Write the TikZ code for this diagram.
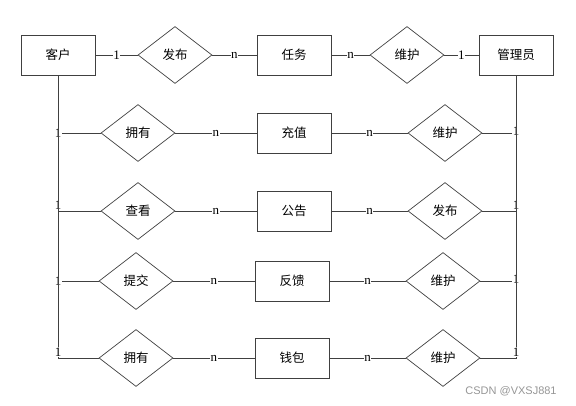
\documentclass[tikz,border=0pt]{standalone}
\usepackage{fontspec}
\setmainfont{Liberation Serif}
\newfontfamily\cjk{Noto Sans CJK SC}
\newfontfamily\wmfont{Liberation Sans}
\usetikzlibrary{shapes.geometric,positioning}
\definecolor{erline}{RGB}{64,64,64}
\definecolor{wmgray}{RGB}{150,150,150}
\tikzset{
  entbox/.style={rectangle,draw=erline,line width=0.9pt,minimum width=74pt,
    minimum height=40pt,inner sep=0pt,font=\cjk\fontsize{12.5}{14}\selectfont},
  relbox/.style={diamond,draw=erline,line width=0.7pt,minimum width=74pt,
    minimum height=57pt,inner sep=0pt,font=\cjk\fontsize{12.5}{14}\selectfont},
  erconn/.style={draw=erline,line width=0.8pt},
  card/.style={fill=white,inner sep=0.6pt,font=\fontsize{13}{13}\selectfont},
}
\begin{document}
\begin{tikzpicture}[x=1pt,y=-1pt]
\useasboundingbox (0,0) rectangle (576,405);

%% ── top row ──────────────────────────────────────────────────────────────
\node[entbox] (kh)  at (58,55)  {客户};
\node[relbox] (fb1) at (175,55) {发布};
\node[entbox] (rw)  at (294,55) {任务};
\node[relbox] (wh1) at (407,55) {维护};
\node[entbox] (gly) at (516,55) {管理员};

%% ── middle entities ──────────────────────────────────────────────────────
\node[entbox] (cz) at (294,133) {充值};
\node[entbox] (gg) at (294,211) {公告};
\node[entbox] (fk) at (292,281) {反馈};
\node[entbox] (qb) at (292,358) {钱包};

%% ── customer side relations ──────────────────────────────────────────────
\node[relbox] (yy1) at (138,133) {拥有};
\node[relbox] (ck)  at (138,211) {查看};
\node[relbox] (tj)  at (136,281) {提交};
\node[relbox] (yy2) at (136,358) {拥有};

%% ── admin side relations ─────────────────────────────────────────────────
\node[relbox] (wh2) at (445,133) {维护};
\node[relbox] (fb2) at (445,211) {发布};
\node[relbox] (wh3) at (443,281) {维护};
\node[relbox] (wh4) at (443,358) {维护};

%% ── Relationships ────────────────────────────────────────────────────────
% top row
\draw[erconn] (kh.east) -- node[card]{1} (fb1.west);
\draw[erconn] (fb1.east) -- node[card]{n} (rw.west);
\draw[erconn] (rw.east) -- node[card]{n} (wh1.west);
\draw[erconn] (wh1.east) -- node[card]{1} (gly.west);
% 客户 1 ──< ...
\draw[erconn] (kh.south) |- node[card]{1} (yy1.west);
\draw[erconn] (kh.south) |- node[card,above=1pt]{1} (ck.west);
\draw[erconn] (kh.south) |- node[card]{1} (tj.west);
\draw[erconn] (kh.south) |- node[card,above=1pt]{1} (yy2.west);
% ... >── entities
\draw[erconn] (yy1.east) -- node[card]{n} (cz.west);
\draw[erconn] (ck.east) -- node[card]{n} (gg.west);
\draw[erconn] (tj.east) -- node[card]{n} (fk.west);
\draw[erconn] (yy2.east) -- node[card]{n} (qb.west);
% entities >── 管理员
\draw[erconn] (cz.east) -- node[card]{n} (wh2.west);
\draw[erconn] (gg.east) -- node[card]{n} (fb2.west);
\draw[erconn] (fk.east) -- node[card]{n} (wh3.west);
\draw[erconn] (qb.east) -- node[card]{n} (wh4.west);
\draw[erconn] (wh2.east) -| node[card,above=-3pt]{1} (gly.south);
\draw[erconn] (fb2.east) -| node[card,above=1pt]{1} (gly.south);
\draw[erconn] (wh3.east) -| node[card,above=-3pt]{1} (gly.south);
\draw[erconn] (wh4.east) -| node[card,above=1pt]{1} (gly.south);

\node[font=\wmfont\fontsize{11}{11}\selectfont,text=wmgray] (wm) at (511,391) {CSDN @VXSJ881};

\end{tikzpicture}
\end{document}
